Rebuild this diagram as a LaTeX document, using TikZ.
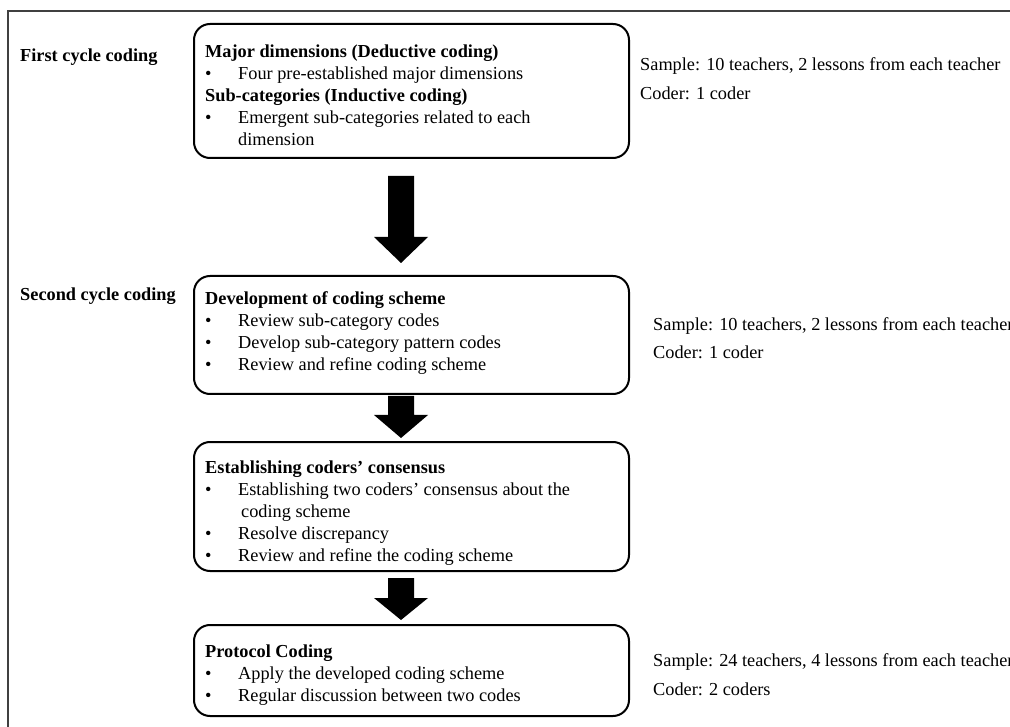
\documentclass[tikz,border=0pt]{standalone}
\usepackage{fontspec}
\setmainfont{Liberation Serif}
\usetikzlibrary{calc}
\newcommand\bulitem{\makebox[33pt][l]{•}}
\newcommand\blockarrow[3]{%
  \fill let \p1=(#1), \p2=(#2) in
    (\x1-13pt,\y1) -- (\x1+13pt,\y1) -- (\x1+13pt,\y2+#3) -- (\x1+27pt,\y2+#3)
    -- (\x2,\y2) -- (\x1-27pt,\y2+#3) -- (\x1-13pt,\y2+#3) -- cycle;}
\begin{document}
\begin{tikzpicture}[x=1pt,y=-1pt,
  box/.style={draw, line width=2pt, rounded corners=16pt, minimum width=435pt, anchor=north west, inner sep=0pt},
  txt/.style={anchor=north west, inner sep=0pt, align=left, font=\fontsize{18.3}{22}\selectfont},
  lab/.style={anchor=base west, inner sep=0pt, font=\fontsize{18.3}{22}\selectfont},
  frame/.style={draw=black!75, line width=1.2pt}
]
\useasboundingbox (0,0) rectangle (1010,727);
\clip (0,0) rectangle (1010,727);
\fill[white] (0,0) rectangle (1010,727);
% outer frame
\draw[frame] (8,740) -- (8,11) -- (1020,11);

% boxes
\node[box, minimum height=134pt] (b1) at (193,23) {};
\node[box, minimum height=118pt] (b2) at (193,275) {};
\node[box, minimum height=129pt] (b3) at (193,441) {};
\node[box, minimum height=91pt]  (b4) at (193,624) {};

% box contents
\node[txt] (t1) at (205,42) {\strut\textbf{Major dimensions (Deductive coding)}\\
\strut\bulitem Four pre-established major dimensions\\
\strut\textbf{Sub-categories (Inductive coding)}\\
\strut\bulitem Emergent sub-categories related to each\\
\strut\hspace*{33pt}dimension};

\node[txt] (t2) at (205,288.6) {\strut\textbf{Development of coding scheme}\\
\strut\bulitem Review sub-category codes\\
\strut\bulitem Develop sub-category pattern codes\\
\strut\bulitem Review and refine coding scheme};

\node[txt] (t3) at (205,457.6) {\strut\textbf{Establishing coders’ consensus}\\
\strut\bulitem Establishing two coders’ consensus about the\\
\strut\hspace*{36pt}coding scheme\\
\strut\bulitem Resolve discrepancy\\
\strut\bulitem Review and refine the coding scheme};

\node[txt] (t4) at (205,641.6) {\strut\textbf{Protocol Coding}\\
\strut\bulitem Apply the developed coding scheme\\
\strut\bulitem Regular discussion between two codes};

% left labels
\node[lab] (l1) at (20,62) {\textbf{First cycle coding}};
\node[lab] (l2) at (20,301) {\textbf{Second cycle coding}};

% right notes
\node[lab] (s1) at (640,71) {Sample: 10 teachers, 2 lessons from each teacher};
\node[lab] (c1) at (640,100) {Coder: 1 coder};
\node[lab] (s2) at (653,331) {Sample: 10 teachers, 2 lessons from each teacher};
\node[lab] (c2) at (653,359) {Coder: 1 coder};
\node[lab] (s3) at (653,666) {Sample: 24 teachers, 4 lessons from each teacher};
\node[lab] (c3) at (653,695) {Coder: 2 coders};

% block arrows
\coordinate (a1s) at (401,176); \coordinate (a1e) at (401,263);
\coordinate (a2s) at (401,396); \coordinate (a2e) at (401,438);
\coordinate (a3s) at (401,578); \coordinate (a3e) at (401,620);
\blockarrow{a1s}{a1e}{26pt}
\blockarrow{a2s}{a2e}{23pt}
\blockarrow{a3s}{a3e}{22pt}
\end{tikzpicture}
\end{document}
